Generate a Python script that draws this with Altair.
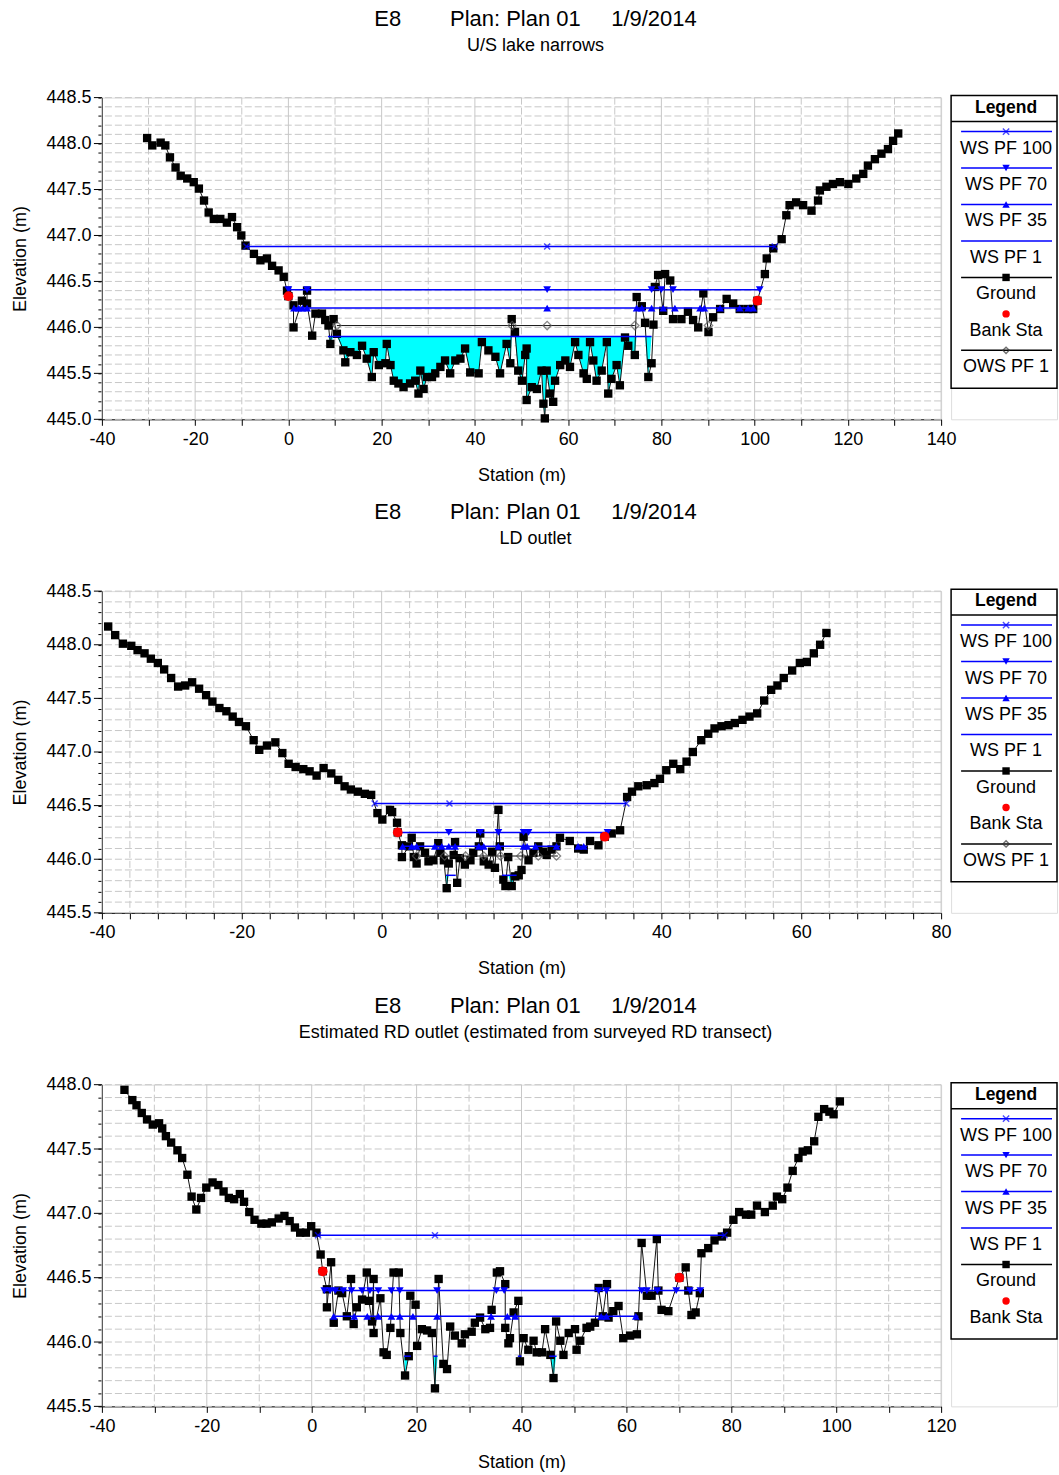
import altair as alt
import numpy as np
import pandas as pd

FONT = "Liberation Sans"
BLUE = "#0000ff"
GRID = "#c8c8c8"
CROSS = "M-1,-1L1,1M1,-1L-1,1"

# ---------------- U/S lake narrows ----------------
us_station = [
    -30.3, -29.2, -27.4, -26.4, -25.4, -24.2, -23.1, -21.7, -20.3, -19.2, -18.1, -17.1,
    -16.0, -14.6, -13.2, -12.1, -11.0, -10.1, -9.2, -7.4, -6.0, -4.6, -3.5, -2.1, -1.0,
    -0.3, 0.0, 1.1, 1.1, 2.9, 4.0, 4.0, 5.1, 5.8, 7.2, 7.9, 8.6, 9.0, 9.7, 10.4, 11.8,
    12.2, 13.3, 14.7, 15.8, 16.8, 17.9, 18.3, 19.4, 20.8, 21.1, 21.9, 22.6, 23.6, 24.7,
    26.1, 27.2, 27.9, 28.3, 29.0, 29.7, 30.8, 31.5, 32.6, 33.6, 34.7, 35.8, 36.9, 37.9,
    39.0, 40.8, 41.5, 42.9, 44.4, 45.4, 46.8, 47.6, 47.9, 48.6, 49.3, 50.1, 50.8, 51.1,
    51.1, 52.2, 53.3, 54.3, 54.7, 55.0, 55.4, 56.1, 56.8, 57.2, 58.3, 59.4, 60.4, 61.5,
    62.2, 63.3, 64.0, 64.7, 65.4, 66.1, 67.2, 68.3, 68.6, 69.3, 70.4, 71.1, 72.2, 72.9,
    74.3, 74.7, 75.8, 76.5, 77.2, 77.9, 78.3, 78.6, 79.3, 80.4, 80.8, 81.9, 82.5, 84.3,
    85.7, 86.8, 87.9, 89.0, 90.1, 91.1, 92.6, 94.0, 95.4, 96.8, 98.6, 99.7, 100.6, 102.2,
    102.6, 104.0, 105.8, 106.8, 107.5, 108.9, 110.4, 112.2, 113.6, 114.0, 115.4, 116.8,
    118.3, 120.1, 121.8, 123.3, 124.3, 125.8, 127.2, 128.6, 129.7, 130.8,
]
us_elev = [
    448.06, 447.98, 448.01, 447.98, 447.85, 447.74, 447.65, 447.62, 447.58, 447.51, 447.38,
    447.25, 447.18, 447.18, 447.14, 447.20, 447.09, 447.00, 446.89, 446.80, 446.73, 446.75,
    446.67, 446.62, 446.55, 446.40, 446.34, 446.24, 446.00, 446.29, 446.40, 446.26, 445.91,
    446.15, 446.15, 446.08, 446.02, 445.82, 446.09, 445.93, 445.75, 445.62, 445.73, 445.70,
    445.80, 445.66, 445.46, 445.73, 445.59, 445.61, 445.82, 445.59, 445.42, 445.39, 445.35,
    445.39, 445.42, 445.28, 445.53, 445.33, 445.46, 445.46, 445.50, 445.57, 445.64, 445.50,
    445.64, 445.66, 445.77, 445.51, 445.50, 445.84, 445.75, 445.68, 445.50, 445.82, 445.61,
    446.09, 445.95, 445.53, 445.42, 445.70, 445.77, 445.21, 445.35, 445.33, 445.53, 445.17,
    445.01, 445.53, 445.28, 445.19, 445.42, 445.59, 445.64, 445.57, 445.84, 445.70, 445.50,
    445.44, 445.84, 445.64, 445.42, 445.53, 445.84, 445.28, 445.44, 445.59, 445.37, 445.89,
    445.80, 445.70, 446.33, 446.23, 446.05, 445.46, 445.61, 446.03, 446.44, 446.57, 446.18,
    446.58, 446.51, 446.09, 446.09, 446.17, 446.08, 446.00, 446.37, 445.95, 446.11, 446.20,
    446.31, 446.26, 446.20, 446.20, 446.20, 446.29, 446.58, 446.75, 446.86, 446.96, 447.22,
    447.33, 447.36, 447.33, 447.27, 447.38, 447.49, 447.53, 447.56, 447.58, 447.56, 447.62,
    447.67, 447.76, 447.83, 447.89, 447.94, 448.03, 448.11,
]
us_bank_station = [0.0, 100.6]
us_bank_elev = [446.34, 446.29]
us_ws = {
    "WS PF 100": {"elev": 446.88, "spans": [(-9.0, 104.3)], "marks": [-9.0, 55.5, 104.3]},
    "WS PF 70": {"elev": 446.41, "spans": [(0.0, 101.1)],
                 "marks": [0.0, 4.0, 55.5, 77.9, 80.0, 82.5, 101.1]},
    "WS PF 35": {"elev": 446.21, "spans": [(1.0, 99.7)],
                 "marks": [1.2, 2.2, 3.0, 4.0, 55.5, 74.7, 75.8, 77.9, 80.4, 82.9, 88.3,
                           89.2, 92.6, 96.8, 98.6, 99.7]},
    "WS PF 1": {"elev": 445.90, "spans": [(8.5, 77.9)], "marks": []},
}
us_ows = {"elev": 446.02, "spans": [(10.4, 74.3)], "marks": [10.4, 48.0, 55.5, 74.3, 90.1]}

# ---------------- LD outlet ----------------
ld_station = [
    -39.1, -38.1, -37.0, -35.8, -34.9, -33.9, -33.0, -32.0, -31.1, -30.1, -29.1, -28.1,
    -27.1, -26.1, -25.1, -24.2, -23.2, -22.2, -21.3, -20.4, -19.4, -18.3, -17.5, -16.4,
    -15.2, -14.2, -13.3, -12.3, -11.2, -10.3, -9.3, -8.3, -7.2, -6.2, -5.3, -4.4, -3.4,
    -2.4, -1.5, -0.6, 0.1, 1.2, 1.5, 2.2, 2.3, 2.9, 2.9, 3.9, 4.3, 4.6, 5.0, 5.5, 6.2,
    6.7, 7.4, 8.1, 8.4, 8.9, 9.3, 9.6, 10.3, 10.5, 10.8, 11.2, 11.9, 12.7, 13.1, 13.9,
    14.1, 14.6, 15.3, 15.8, 16.2, 16.7, 16.9, 17.4, 17.7, 18.1, 18.6, 19.1, 19.6, 20.0,
    20.3, 21.0, 21.7, 22.4, 23.1, 23.6, 24.3, 25.0, 25.5, 26.9, 28.1, 28.9, 29.8, 31.0,
    31.9, 32.9, 34.1, 35.1, 35.8, 36.7, 37.9, 39.0, 39.8, 40.7, 41.7, 42.7, 43.6, 44.5,
    45.7, 46.7, 47.6, 48.6, 49.6, 50.5, 51.6, 52.6, 53.7, 54.7, 55.7, 56.6, 57.5, 58.7,
    59.8, 60.8, 61.8, 62.7, 63.6,
]
ld_elev = [
    448.17, 448.09, 448.01, 447.99, 447.95, 447.92, 447.87, 447.83, 447.77, 447.69, 447.61,
    447.62, 447.65, 447.59, 447.53, 447.47, 447.41, 447.38, 447.33, 447.28, 447.24, 447.11,
    447.02, 447.06, 447.09, 446.99, 446.89, 446.86, 446.84, 446.82, 446.78, 446.85, 446.80,
    446.74, 446.68, 446.65, 446.63, 446.61, 446.60, 446.43, 446.37, 446.46, 446.44, 446.34,
    446.25, 446.13, 446.02, 446.12, 446.20, 446.02, 445.96, 446.12, 446.06, 445.98, 445.99,
    446.15, 446.06, 445.99, 445.73, 445.96, 446.04, 446.16, 445.78, 446.01, 445.95, 445.99,
    446.06, 446.12, 446.24, 445.98, 445.95, 446.07, 445.92, 446.46, 446.12, 445.81, 445.75,
    446.02, 445.75, 445.84, 445.85, 445.90, 446.21, 445.99, 446.06, 446.12, 446.07, 446.04,
    446.09, 446.12, 446.20, 446.17, 446.10, 446.09, 446.17, 446.13, 446.21, 446.24, 446.27,
    446.58, 446.63, 446.68, 446.69, 446.71, 446.75, 446.83, 446.89, 446.84, 446.91, 447.00,
    447.11, 447.17, 447.22, 447.24, 447.25, 447.27, 447.30, 447.33, 447.36, 447.48, 447.58,
    447.62, 447.69, 447.76, 447.83, 447.84, 447.92, 448.00, 448.11,
]
ld_bank_station = [2.3, 31.9]
ld_bank_elev = [446.25, 446.21]
ld_ws = {
    "WS PF 100": {"elev": 446.52, "spans": [(-1.0, 35.0)], "marks": [-1.0, 9.7, 35.0]},
    "WS PF 70": {"elev": 446.25, "spans": [(2.3, 32.3)],
                 "marks": [2.3, 9.6, 14.1, 16.7, 20.3, 21.0, 32.3]},
    "WS PF 35": {"elev": 446.12, "spans": [(3.0, 25.5), (27.8, 29.4)],
                 "marks": [3.0, 4.3, 5.0, 7.6, 8.6, 9.6, 10.5, 13.9, 14.6, 16.7, 20.3,
                           20.8, 22.0, 25.0, 28.1, 28.9]},
    "WS PF 1": {"elev": 445.85, "spans": [(9.2, 10.6), (17.2, 19.3)], "marks": []},
}
ld_ows = {"elev": 446.03, "spans": [(4.6, 25.2)],
          "marks": [5.0, 9.0, 12.0, 14.6, 17.0, 19.9, 22.4, 25.0]}

# ---------------- Estimated RD outlet ----------------
rd_station = [
    -35.7, -34.2, -33.4, -32.4, -31.4, -30.3, -29.1, -28.5, -27.8, -26.8, -25.6, -24.7,
    -23.7, -22.9, -22.0, -21.1, -20.1, -18.9, -17.8, -16.8, -15.8, -14.8, -13.7, -12.9,
    -11.9, -10.9, -9.6, -8.6, -7.6, -6.3, -5.2, -4.2, -3.2, -2.2, -1.1, -0.1, 0.9, 1.7,
    2.1, 2.9, 2.9, 3.7, 4.2, 5.1, 5.8, 6.7, 7.5, 8.0, 8.6, 9.6, 10.5, 10.9, 11.5, 11.8,
    11.8, 13.1, 13.7, 14.3, 15.0, 15.6, 16.6, 16.9, 17.8, 18.5, 18.8, 19.8, 20.1, 21.0,
    22.0, 22.9, 23.5, 24.2, 25.1, 25.8, 26.4, 27.3, 28.6, 29.2, 30.5, 31.1, 32.1, 33.1,
    34.0, 34.3, 35.3, 35.9, 36.9, 36.9, 37.5, 37.8, 38.5, 39.4, 39.7, 40.4, 41.3, 42.3,
    42.9, 43.9, 44.5, 45.5, 46.1, 46.6, 47.4, 48.0, 49.0, 50.2, 50.5, 51.2, 52.4, 53.1,
    54.0, 54.7, 55.5, 56.3, 56.6, 57.5, 58.5, 59.4, 60.7, 62.0, 62.3, 62.9, 63.9, 64.8,
    65.8, 66.1, 66.7, 68.0, 70.1, 71.3, 71.8, 72.4, 73.2, 74.0, 74.3, 75.6, 76.8, 78.2,
    79.2, 80.4, 81.5, 82.8, 83.8, 84.9, 86.4, 87.9, 88.7, 89.7, 90.7, 91.7, 92.8, 93.6,
    94.6, 95.8, 96.6, 97.7, 98.7, 99.5, 100.7,
]
rd_elev = [
    447.96, 447.88, 447.84, 447.78, 447.73, 447.69, 447.70, 447.66, 447.60, 447.55, 447.49,
    447.43, 447.30, 447.13, 447.03, 447.12, 447.20, 447.24, 447.22, 447.17, 447.12, 447.11,
    447.15, 447.09, 447.01, 446.95, 446.92, 446.92, 446.93, 446.96, 446.98, 446.94, 446.89,
    446.85, 446.85, 446.90, 446.85, 446.68, 446.55, 446.41, 446.27, 446.62, 446.15, 446.40,
    446.38, 446.20, 446.49, 446.14, 446.27, 446.33, 446.54, 446.32, 446.16, 446.49, 446.07,
    446.34, 445.92, 445.90, 446.11, 446.54, 446.54, 446.07, 445.74, 445.89, 446.36, 446.29,
    445.97, 446.10, 446.09, 446.07, 445.64, 446.49, 445.83, 445.79, 446.12, 446.05, 445.99,
    446.06, 446.08, 446.15, 446.19, 446.10, 446.11, 446.25, 446.54, 446.55, 446.45, 446.11,
    445.99, 446.03, 446.23, 446.32, 445.85, 446.03, 445.94, 446.01, 445.92, 445.92, 446.10,
    445.90, 445.72, 446.16, 446.01, 445.90, 446.07, 446.10, 445.94, 446.01, 446.11, 446.12,
    446.15, 446.42, 446.20, 446.45, 446.19, 446.24, 446.28, 446.03, 446.05, 446.06, 446.20,
    446.77, 446.36, 446.36, 446.80, 446.40, 446.25, 446.24, 446.50, 446.58, 446.40, 446.21,
    446.23, 446.38, 446.69, 446.73, 446.79, 446.82, 446.85, 446.95, 447.01, 446.99, 446.99,
    447.06, 447.01, 447.06, 447.13, 447.11, 447.20, 447.33, 447.43, 447.48, 447.49, 447.56,
    447.75, 447.81, 447.79, 447.77, 447.87,
]
rd_bank_station = [2.1, 70.1]
rd_bank_elev = [446.55, 446.50]
rd_ws = {
    "WS PF 100": {"elev": 446.83, "spans": [(1.2, 78.7)], "marks": [1.2, 23.5, 78.7]},
    "WS PF 70": {"elev": 446.40, "spans": [(2.4, 74.1)],
                 "marks": [2.4, 3.5, 4.5, 6.0, 7.6, 9.6, 11.1, 12.7, 15.2, 16.8, 23.9, 35.2,
                           36.7, 54.7, 56.2, 62.9, 63.9, 65.9, 69.5, 72.1, 74.1]},
    "WS PF 35": {"elev": 446.20, "spans": [(4.0, 62.3)],
                 "marks": [4.2, 8.1, 10.6, 12.7, 15.2, 16.8, 19.3, 23.9, 34.2, 37.3, 38.8,
                           55.2, 56.2, 61.8]},
    "WS PF 1": {"elev": 445.89, "spans": [(17.6, 18.9), (23.2, 24.0), (39.3, 40.0), (45.3, 46.7)],
                "marks": []},
}

WS_SHAPE = {"WS PF 100": CROSS, "WS PF 70": "triangle-down", "WS PF 35": "triangle-up"}


def build_panel(title, subtitle, sta, elev, bank_sta, bank_elev, ws, ows, xdom, ydom, xstep):
    xs = alt.Scale(domain=list(xdom), nice=False, zero=False)
    ys = alt.Scale(domain=list(ydom), nice=False, zero=False)

    ground = pd.DataFrame({"station": sta, "elev": elev})
    ground["idx"] = np.arange(len(ground))

    xv = [float(v) for v in np.round(np.arange(xdom[0], xdom[1] + 1e-9, xstep), 4)]
    yv = [float(v) for v in np.round(np.arange(ydom[0], ydom[1] + 1e-9, 0.1), 2)]

    # one shared axis definition per channel, repeated on every layer so they merge
    xaxis = alt.Axis(values=xv, title="Station (m)", grid=False,
                     labelExpr="datum.value % 20 === 0 ? toString(datum.value) : ''",
                     domainColor="black", tickColor="black", tickSize=6, labelPadding=5,
                     labelFontSize=18, titleFontSize=18, titleFontWeight="normal",
                     labelFont=FONT, titleFont=FONT, labelColor="black", titleColor="black",
                     titlePadding=18, labelFlush=False, labelOverlap=False)
    yaxis = alt.Axis(values=yv, title="Elevation (m)", grid=False,
                     labelExpr="abs(datum.value * 2 - round(datum.value * 2)) < 0.001 ? format(datum.value, '.1f') : ''",
                     domainColor="black", tickColor="black", tickSize=4, labelPadding=7,
                     labelFontSize=18, titleFontSize=18, titleFontWeight="normal",
                     labelFont=FONT, titleFont=FONT, labelColor="black", titleColor="black",
                     titlePadding=16, labelFlush=False, labelOverlap=False)

    def X(f):
        return alt.X(f, scale=xs, axis=xaxis)

    def Y(f):
        return alt.Y(f, scale=ys, axis=yaxis)

    xmaj = pd.DataFrame({"v": [v for v in xv if abs(v % 20) < 1e-6]})
    xmin_ = pd.DataFrame({"v": [v for v in xv if abs(v % 20) >= 1e-6]})
    ymaj = pd.DataFrame({"v": [v for v in yv if abs(v * 2 - round(v * 2)) < 1e-6]})
    ygrid = pd.DataFrame({"v": yv})

    layers = [
        alt.Chart(xmaj).mark_rule(color=GRID, strokeWidth=1).encode(x=X("v:Q")),
        alt.Chart(xmin_).mark_rule(color=GRID, strokeWidth=1, strokeDash=[7, 3]).encode(x=X("v:Q")),
        alt.Chart(ygrid).mark_rule(color=GRID, strokeWidth=1, strokeDash=[7, 3]).encode(y=Y("v:Q")),
    ]

    # cyan water fill between ground and WS PF 1
    w1 = ws["WS PF 1"]
    fill_rows = []
    for k, (a, b) in enumerate(w1["spans"]):
        fill_rows.append({"pool": k, "station": a, "top": w1["elev"], "y": w1["elev"]})
        for s, e in zip(sta, elev):
            if a < s < b:
                fill_rows.append({"pool": k, "station": s, "top": w1["elev"],
                                  "y": min(e, w1["elev"])})
        fill_rows.append({"pool": k, "station": b, "top": w1["elev"], "y": w1["elev"]})
    fill = pd.DataFrame(fill_rows)
    layers.append(alt.Chart(fill).mark_area(color="#00ffff", opacity=1).encode(
        x=X("station:Q"), y=Y("y:Q"), y2="top:Q", detail="pool:N"))

    # ground profile
    layers.append(alt.Chart(ground).mark_line(color="#111111", strokeWidth=1).encode(
        x=X("station:Q"), y=Y("elev:Q"), order="idx:Q"))
    layers.append(alt.Chart(ground).mark_point(shape="square", filled=True, color="black",
                                               size=70, opacity=1).encode(
        x=X("station:Q"), y=Y("elev:Q")))

    # ineffective (OWS) surface
    if ows is not None:
        seg = pd.DataFrame([{"a": a, "b": b, "e": ows["elev"]} for a, b in ows["spans"]])
        layers.append(alt.Chart(seg).mark_rule(color="#111111", strokeWidth=1).encode(
            x=X("a:Q"), x2="b:Q", y=Y("e:Q")))
        pts = pd.DataFrame({"s": ows["marks"], "e": ows["elev"]})
        layers.append(alt.Chart(pts).mark_point(shape="diamond", filled=False, color="#555555",
                                                size=70, strokeWidth=1.3).encode(
            x=X("s:Q"), y=Y("e:Q")))

    # water surfaces
    seg_rows, mark_rows = [], []
    for name, p in ws.items():
        for a, b in p["spans"]:
            seg_rows.append({"a": a, "b": b, "e": p["elev"], "name": name})
        for s in p["marks"]:
            mark_rows.append({"s": s, "e": p["elev"], "name": name})
    segs = pd.DataFrame(seg_rows)
    marks = pd.DataFrame(mark_rows)
    layers.append(alt.Chart(segs).mark_rule(color=BLUE, strokeWidth=1.5).encode(
        x=X("a:Q"), x2="b:Q", y=Y("e:Q")))
    for name, shp in WS_SHAPE.items():
        sub = marks[marks["name"] == name]
        if shp == CROSS:
            mk = alt.Chart(sub).mark_point(shape=shp, filled=False, color=BLUE, size=36,
                                           strokeWidth=1.5)
        else:
            mk = alt.Chart(sub).mark_point(shape=shp, filled=True, color=BLUE, size=60, opacity=1)
        layers.append(mk.encode(x=X("s:Q"), y=Y("e:Q")))

    banks = pd.DataFrame({"s": bank_sta, "e": bank_elev})
    layers.append(alt.Chart(banks).mark_point(shape="circle", filled=True, color="#ff0000",
                                              size=95, opacity=1).encode(
        x=X("s:Q"), y=Y("e:Q")))

    # longer ticks at the labelled elevations
    layers.append(alt.Chart(ymaj).mark_rule(color="black", strokeWidth=1).encode(
        x=alt.value(-8), x2=alt.value(0), y=Y("v:Q")))

    return alt.layer(*layers).properties(
        width=840, height=322,
        title=alt.TitleParams(
            text=title, subtitle=subtitle, font=FONT, subtitleFont=FONT, fontSize=22,
            subtitleFontSize=18, fontWeight="normal", color="black", subtitleColor="black",
            anchor="middle", dx=14, offset=33, subtitlePadding=6),
    )


LEGEND_STYLE = {
    "WS PF 100": {"line": BLUE, "shape": CROSS, "color": BLUE, "filled": False},
    "WS PF 70": {"line": BLUE, "shape": "triangle-down", "color": BLUE, "filled": True},
    "WS PF 35": {"line": BLUE, "shape": "triangle-up", "color": BLUE, "filled": True},
    "WS PF 1": {"line": BLUE, "shape": None, "color": BLUE, "filled": True},
    "Ground": {"line": "black", "shape": "square", "color": "black", "filled": True},
    "Bank Sta": {"line": None, "shape": "circle", "color": "#ff0000", "filled": True},
    "OWS PF 1": {"line": "black", "shape": "diamond", "color": "#333333", "filled": False},
}


def build_legend(names):
    step = 36.5
    rows = []
    for i, n in enumerate(names):
        st = LEGEND_STYLE[n]
        rows.append({"name": n, "line_y": 34 + step * i, "label_y": 51 + step * i,
                     "line": st["line"], "shape": st["shape"], "color": st["color"],
                     "filled": st["filled"]})
    df = pd.DataFrame(rows)
    box_h = 51 + step * (len(names) - 1) + 21
    one = pd.DataFrame({"k": [0]})

    def yy(f):
        return alt.Y(f, scale=None, axis=None)

    layers = [
        alt.Chart(one).mark_rect(fill="white", stroke="black", strokeWidth=1.5).encode(
            x=alt.value(0), x2=alt.value(106), y=alt.value(-2), y2=alt.value(box_h)),
        alt.Chart(one).mark_text(text="Legend", font=FONT, fontSize=17.5, fontWeight="bold",
                                 color="black").encode(x=alt.value(55), y=alt.value(10)),
        alt.Chart(one).mark_rule(color="black", strokeWidth=1.5).encode(
            x=alt.value(0), x2=alt.value(106), y=alt.value(24)),
        alt.Chart(df[df["line"].notna()]).mark_rule(strokeWidth=1.5).encode(
            x=alt.value(10), x2=alt.value(101), y=yy("line_y:Q"),
            color=alt.Color("line:N", scale=None)),
        alt.Chart(df[df["shape"].notna() & df["filled"]]).mark_point(filled=True, size=55, opacity=1).encode(
            x=alt.value(55), y=yy("line_y:Q"), shape=alt.Shape("shape:N", scale=None),
            color=alt.Color("color:N", scale=None)),
        alt.Chart(df[df["shape"].notna() & ~df["filled"]]).mark_point(filled=False, size=40, strokeWidth=1.4).encode(
            x=alt.value(55), y=yy("line_y:Q"), shape=alt.Shape("shape:N", scale=None),
            color=alt.Color("color:N", scale=None)),
        alt.Chart(df).mark_text(font=FONT, fontSize=18, color="black").encode(
            x=alt.value(55), y=yy("label_y:Q"), text="name:N"),
    ]
    return alt.layer(*layers).properties(width=106, height=322)


NB = "\u00a0"
main_title = "E8" + NB * 8 + "Plan: Plan 01" + NB * 5 + "1/9/2014"
all_names = ["WS PF 100", "WS PF 70", "WS PF 35", "WS PF 1", "Ground", "Bank Sta", "OWS PF 1"]

p1 = build_panel(main_title, "U/S lake narrows", us_station, us_elev, us_bank_station,
                 us_bank_elev, us_ws, us_ows, (-40, 140), (445.0, 448.5), 10)
p2 = build_panel(main_title, "LD outlet", ld_station, ld_elev, ld_bank_station,
                 ld_bank_elev, ld_ws, ld_ows, (-40, 80), (445.5, 448.5), 4)
p3 = build_panel(main_title, "Estimated RD outlet (estimated from surveyed RD transect)",
                 rd_station, rd_elev, rd_bank_station, rd_bank_elev, rd_ws, None,
                 (-40, 120), (445.5, 448.0), 10)

rows = [
    alt.hconcat(p1, build_legend(all_names), spacing=10, bounds="flush"),
    alt.hconcat(p2, build_legend(all_names), spacing=10, bounds="flush"),
    alt.hconcat(p3, build_legend(all_names[:-1]), spacing=10, bounds="flush"),
]

chart = alt.vconcat(*rows, spacing=15).properties(
    padding={"left": 11, "top": 6, "right": 0, "bottom": 5}
).configure_view(strokeWidth=0).configure(background="white")

chart.save("out.html", embed_options={"renderer": "svg", "actions": False})
